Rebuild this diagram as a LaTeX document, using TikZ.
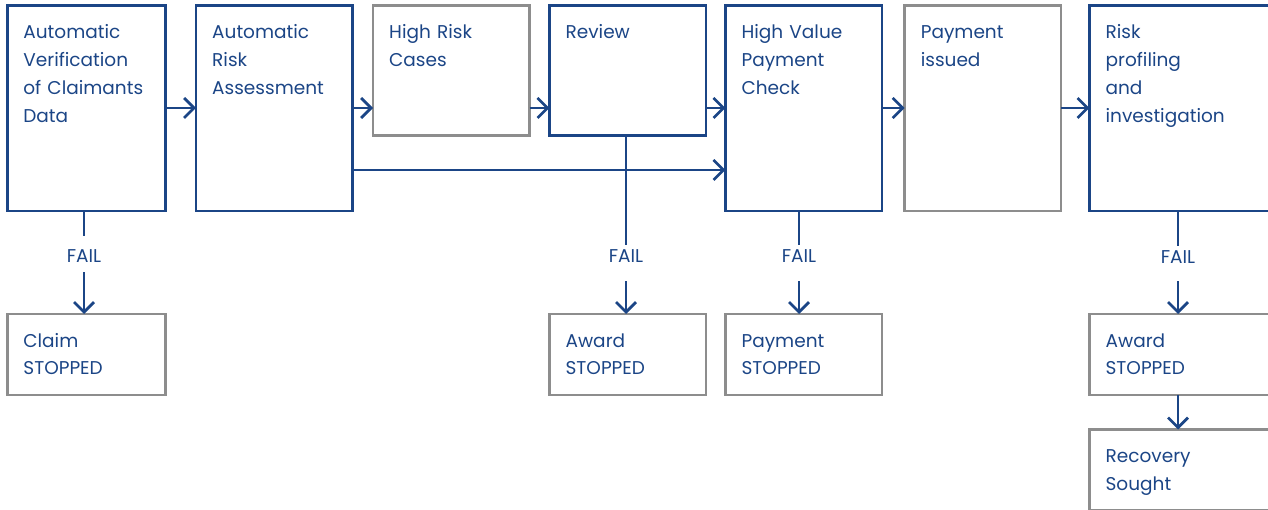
\documentclass[tikz,border=0pt]{standalone}
\usepackage{fontspec}
\setmainfont{Poppins}
\usetikzlibrary{arrows.meta}
\definecolor{navy}{HTML}{1B4586}
\definecolor{frame}{HTML}{8D8D8D}

\begin{document}
\begin{tikzpicture}[x=1pt,y=-1pt,
  box/.style={draw=navy, line width=2.7pt, inner sep=0pt, outer sep=0pt,
    minimum width=156.5pt, anchor=north west},
  gbox/.style={box, draw=frame},
  wide/.style={minimum width=158.5pt},
  tall/.style={minimum height=205.5pt},
  mid/.style={minimum height=130pt},
  low/.style={minimum height=81pt},
  txt/.style={text=navy, font=\fontsize{18.5}{28}\selectfont, text width=150pt,
    align=left, anchor=base west, inner sep=0pt},
  fail/.style={text=navy, font=\fontsize{18.5}{28}\selectfont, anchor=base, inner sep=0pt},
  ln/.style={draw=navy, line width=2.7pt},
  arr/.style={ln, -{Straight Barb[length=10pt,width=20pt]}}]

\useasboundingbox (0,0) rectangle (1268,510);
\clip (0,0) rectangle (1268,510);

% main row
\node[box,tall,wide] (b1) at (7.2,5.5)    {};
\node[box,tall]  (b2) at (196,5.5)    {};
\node[gbox,mid]  (b3) at (373,5.5)    {};
\node[box,mid]   (b4) at (549.4,5.5)  {};
\node[box,tall]  (b5) at (725.4,5.5)  {};
\node[gbox,tall] (b6) at (904.6,5.5)  {};
\node[box,tall,minimum width=200pt] (b7) at (1089.4,5.5) {};

% outcome boxes
\node[gbox,low,wide] (s1) at (7.2,314)   {};
\node[gbox,low] (s2) at (549.4,314) {};
\node[gbox,low] (s3) at (725.4,314) {};
\node[gbox,low,minimum width=200pt] (s4) at (1089.4,314) {};
\node[gbox,low,minimum width=200pt] (rc) at (1089.4,429.5) {};

% box texts
\node[txt] (t1) at ([xshift=16pt,yshift=-33pt]b1.north west) {Automatic\\Verification\\of Claimants\\Data};
\node[txt] (t2) at ([xshift=16pt,yshift=-33pt]b2.north west) {Automatic\\Risk\\Assessment};
\node[txt] (t3) at ([xshift=16pt,yshift=-33pt]b3.north west) {High Risk\\Cases};
\node[txt] (t4) at ([xshift=16pt,yshift=-33pt]b4.north west) {Review};
\node[txt] (t5) at ([xshift=16pt,yshift=-33pt]b5.north west) {High Value\\Payment\\Check};
\node[txt] (t6) at ([xshift=16pt,yshift=-33pt]b6.north west) {Payment\\issued};
\node[txt] (t7) at ([xshift=16pt,yshift=-33pt]b7.north west) {Risk\\profiling\\and\\investigation};
\node[txt] (u1) at ([xshift=16pt,yshift=-33pt]s1.north west) {Claim\\STOPPED};
\node[txt] (u2) at ([xshift=16pt,yshift=-33pt]s2.north west) {Award\\STOPPED};
\node[txt] (u3) at ([xshift=16pt,yshift=-33pt]s3.north west) {Payment\\STOPPED};
\node[txt] (u4) at ([xshift=16pt,yshift=-33pt]s4.north west) {Award\\STOPPED};
\node[txt] (u5) at ([xshift=16pt,yshift=-33pt]rc.north west) {Recovery\\Sought};

% FAIL labels
\node[fail] (f1) at (84,263)   {FAIL};
\node[fail] (f2) at (626,263)  {FAIL};
\node[fail] (f3) at (799,263)  {FAIL};
\node[fail] (f4) at (1178,264) {FAIL};

% forward flow
\draw[arr] (b1.east |- 0,108) -- (b2.west |- 0,108);
\draw[arr] (b2.east |- 0,108) -- (b3.west |- 0,108);
\draw[arr] (b3.east |- 0,108) -- (b4.west |- 0,108);
\draw[arr] (b4.east |- 0,108) -- (b5.west |- 0,108);
\draw[arr] (b5.east |- 0,108) -- (b6.west |- 0,108);
\draw[arr] (b6.east |- 0,108) -- (b7.west |- 0,108);
\draw[arr] (b2.east |- 0,170) -- (b5.west |- 0,170);

% failure branches
\draw[ln]  (b1.south -| f1) -- ([yshift=14pt]f1.north);
\draw[arr] ([yshift=-9pt]f1.south) -- (s1.north -| f1);
\draw[ln]  (b4.south -| f2) -- ([yshift=5pt]f2.north);
\draw[arr] ([yshift=-18pt]f2.south) -- (s2.north -| f2);
\draw[ln]  (b5.south -| f3) -- ([yshift=5pt]f3.north);
\draw[arr] ([yshift=-18pt]f3.south) -- (s3.north -| f3);
\draw[ln]  (b7.south -| f4) -- ([yshift=5pt]f4.north);
\draw[arr] ([yshift=-17pt]f4.south) -- (s4.north -| f4);
\draw[arr] (s4.south -| f4) -- (rc.north -| f4);
\end{tikzpicture}
\end{document}
